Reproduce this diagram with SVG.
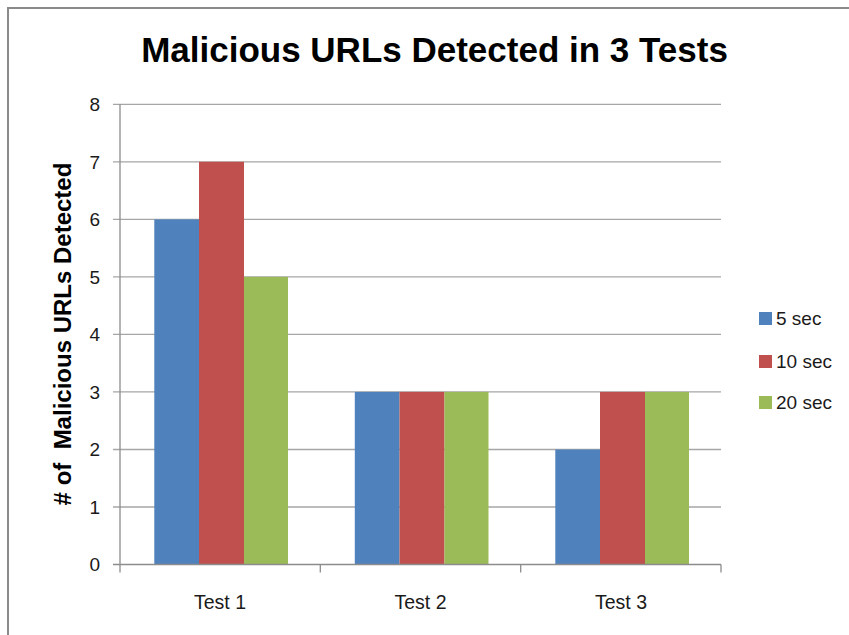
<svg xmlns="http://www.w3.org/2000/svg" width="849" height="635" viewBox="0 0 849 635">
<style>
text{font-family:"Liberation Sans",Arial,sans-serif;fill:#1a1a1a}
.tick{font-size:19px;text-anchor:end}
.cat{font-size:19.5px;text-anchor:middle}
.leg{font-size:19px}
.grid{stroke:#a6a6a6;stroke-width:1.3}
.axis{stroke:#8c8c8c;stroke-width:1.3;fill:none}
.b{fill:#4F81BD}.r{fill:#C0504D}.g{fill:#9BBB59}
</style>
<rect x="0" y="0" width="849" height="635" fill="#fff"/>
<rect x="8" y="8" width="860" height="650" fill="#fff" stroke="#8a8a8a" stroke-width="2"/>
<text x="434.5" y="62" font-size="35" font-weight="bold" text-anchor="middle" style="fill:#000">Malicious URLs Detected in 3 Tests</text>
<text transform="translate(71,334) rotate(-90)" font-size="24" font-weight="bold" text-anchor="middle" style="fill:#000;white-space:pre">#&#160;of&#160; Malicious URLs Detected</text>
<g id="grid">
<line class="grid" x1="113" y1="104.3" x2="721" y2="104.3"/>
<line class="grid" x1="113" y1="161.8" x2="721" y2="161.8"/>
<line class="grid" x1="113" y1="219.4" x2="721" y2="219.4"/>
<line class="grid" x1="113" y1="276.9" x2="721" y2="276.9"/>
<line class="grid" x1="113" y1="334.4" x2="721" y2="334.4"/>
<line class="grid" x1="113" y1="391.9" x2="721" y2="391.9"/>
<line class="grid" x1="113" y1="449.5" x2="721" y2="449.5"/>
<line class="grid" x1="113" y1="507" x2="721" y2="507"/>
</g>
<g id="ticklabels">
<text class="tick" x="100" y="111">8</text>
<text class="tick" x="100" y="168.5">7</text>
<text class="tick" x="100" y="226">6</text>
<text class="tick" x="100" y="283.5">5</text>
<text class="tick" x="100" y="341">4</text>
<text class="tick" x="100" y="398.5">3</text>
<text class="tick" x="100" y="456">2</text>
<text class="tick" x="100" y="513.5">1</text>
<text class="tick" x="100" y="571">0</text>
</g>
<g id="test1">
<rect class="b" x="154.3" y="219.4" width="44.7" height="345.1"/>
<rect class="r" x="199" y="161.8" width="45" height="402.7"/>
<rect class="g" x="244" y="276.9" width="44" height="287.6"/>
</g>
<g id="test2">
<rect class="b" x="354.8" y="391.9" width="44.7" height="172.6"/>
<rect class="r" x="399.5" y="391.9" width="45" height="172.6"/>
<rect class="g" x="444.5" y="391.9" width="44" height="172.6"/>
</g>
<g id="test3">
<rect class="b" x="555.3" y="449.5" width="44.7" height="115"/>
<rect class="r" x="600" y="391.9" width="45" height="172.6"/>
<rect class="g" x="645" y="391.9" width="44" height="172.6"/>
</g>
<g id="axes">
<line class="axis" x1="120" y1="104.3" x2="120" y2="572.5"/>
<line class="axis" x1="113" y1="564.5" x2="721" y2="564.5"/>
<line class="axis" x1="320.3" y1="564.5" x2="320.3" y2="572.5"/>
<line class="axis" x1="520.7" y1="564.5" x2="520.7" y2="572.5"/>
<line class="axis" x1="721" y1="564.5" x2="721" y2="572.5"/>
</g>
<g id="catlabels">
<text class="cat" x="220" y="609">Test 1</text>
<text class="cat" x="420.5" y="609">Test 2</text>
<text class="cat" x="621" y="609">Test 3</text>
</g>
<g id="legend">
<rect class="b" x="759" y="312" width="13" height="13"/>
<text class="leg" x="776" y="325">5 sec</text>
<rect class="r" x="759" y="355" width="13" height="13"/>
<text class="leg" x="776" y="368">10 sec</text>
<rect class="g" x="759" y="396" width="13" height="13"/>
<text class="leg" x="776" y="409">20 sec</text>
</g>
</svg>
